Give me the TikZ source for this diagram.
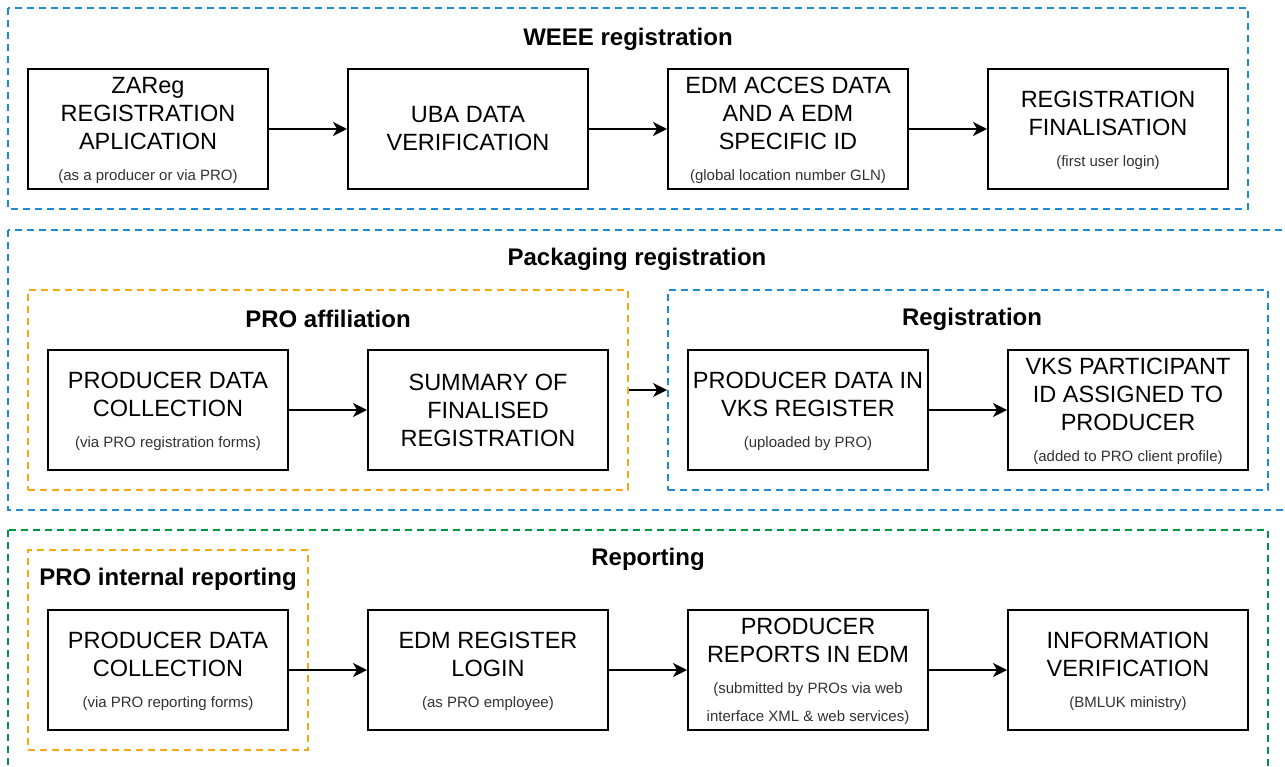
\documentclass[tikz,border=0pt]{standalone}
\usepackage{fontspec}
\setmainfont{Liberation Sans}
\usetikzlibrary{arrows.meta}
\tikzset{>={Stealth[length=14pt,width=14pt,inset=4pt]}}
\definecolor{GroupBlue}{RGB}{30,140,210}
\definecolor{GroupOrange}{RGB}{245,170,20}
\definecolor{GroupGreen}{RGB}{0,150,65}
\definecolor{NoteGray}{RGB}{50,50,50}
\tikzset{
	stepbox/.style={draw,line width=2pt,minimum width=240pt,minimum height=120pt,inner sep=0pt,align=center,font=\fontsize{23.5}{28}\selectfont},
	subbox/.style={stepbox,text depth=-4pt},
	grp/.style={draw=#1,line width=1.8pt,dash pattern=on 7pt off 5pt,inner sep=0pt},
	grptitle/.style={font=\fontsize{24}{28}\selectfont\bfseries},
	flow/.style={->,line width=2pt},
}
\newcommand{\subnote}[1]{{\fontsize{15}{28}\selectfont\color{NoteGray}#1}}

\begin{document}
\begin{tikzpicture}[x=1pt,y=-1pt]
		\useasboundingbox (0,0) rectangle (1285,767);

		% group frames
		\draw[grp=GroupBlue] (8,8) rectangle (1248,209);
		\draw[grp=GroupBlue] (8,230) rectangle (1295,510);
		\draw[grp=GroupGreen] (8,530) rectangle (1268,780);
		\node[grp=GroupOrange,minimum width=600pt,minimum height=200pt] (affil) at (328,390) {};
		\node[grp=GroupBlue,minimum width=600pt,minimum height=200pt] (vksreg) at (968,390) {};
		\node[grp=GroupOrange,minimum width=280pt,minimum height=200pt] (internal) at (168,650) {};

		% group titles
		\node[grptitle] (weeetitle) at (628,39) {WEEE registration};
		\node[grptitle] (packtitle) at (637,259) {Packaging registration};
		\node[grptitle] (affiltitle) at (328,319) {PRO affiliation};
		\node[grptitle] (regtitle) at (972,319) {Registration};
		\node[grptitle] (reptitle) at (648,559) {Reporting};
		\node[grptitle] (inttitle) at (168,579) {PRO internal reporting};

		% WEEE registration steps
		\node[subbox] (zareg) at (148,129) {ZAReg\\REGISTRATION\\APLICATION\\[3pt]\subnote{(as a producer or via PRO)}};
		\node[stepbox] (uba) at (468,129) {UBA DATA\\VERIFICATION};
		\node[subbox] (edmid) at (788,129) {EDM ACCES DATA\\AND A EDM\\SPECIFIC ID\\[3pt]\subnote{(global location number GLN)}};
		\node[subbox] (final) at (1108,129) {REGISTRATION\\FINALISATION\\[3pt]\subnote{(first user login)}};

		% packaging registration steps
		\node[subbox] (pcollect) at (168,410) {PRODUCER DATA\\COLLECTION\\[3pt]\subnote{(via PRO registration forms)}};
		\node[stepbox] (summary) at (488,410) {SUMMARY OF\\FINALISED\\REGISTRATION};
		\node[subbox] (vksdata) at (808,410) {PRODUCER DATA IN\\VKS REGISTER\\[3pt]\subnote{(uploaded by PRO)}};
		\node[subbox] (vksid) at (1128,410) {VKS PARTICIPANT\\ID ASSIGNED TO\\PRODUCER\\[3pt]\subnote{(added to PRO client profile)}};

		% reporting steps
		\node[subbox] (rcollect) at (168,670) {PRODUCER DATA\\COLLECTION\\[3pt]\subnote{(via PRO reporting forms)}};
		\node[subbox] (login) at (488,670) {EDM REGISTER\\LOGIN\\[3pt]\subnote{(as PRO employee)}};
		\node[subbox] (reports) at (808,670) {PRODUCER\\REPORTS IN EDM\\[3pt]\subnote{(submitted by PROs via web}\\\subnote{interface XML \& web services)}};
		\node[subbox] (verify) at (1128,670) {INFORMATION\\VERIFICATION\\[3pt]\subnote{(BMLUK ministry)}};

		% arrows
		\draw[flow] (zareg) -- (uba);
		\draw[flow] (uba) -- (edmid);
		\draw[flow] (edmid) -- (final);
		\draw[flow] (pcollect) -- (summary);
		\draw[flow] (affil) -- (vksreg);
		\draw[flow] (vksdata) -- (vksid);
		\draw[flow] (rcollect) -- (login);
		\draw[flow] (login) -- (reports);
		\draw[flow] (reports) -- (verify);

	\end{tikzpicture}
\end{document}
